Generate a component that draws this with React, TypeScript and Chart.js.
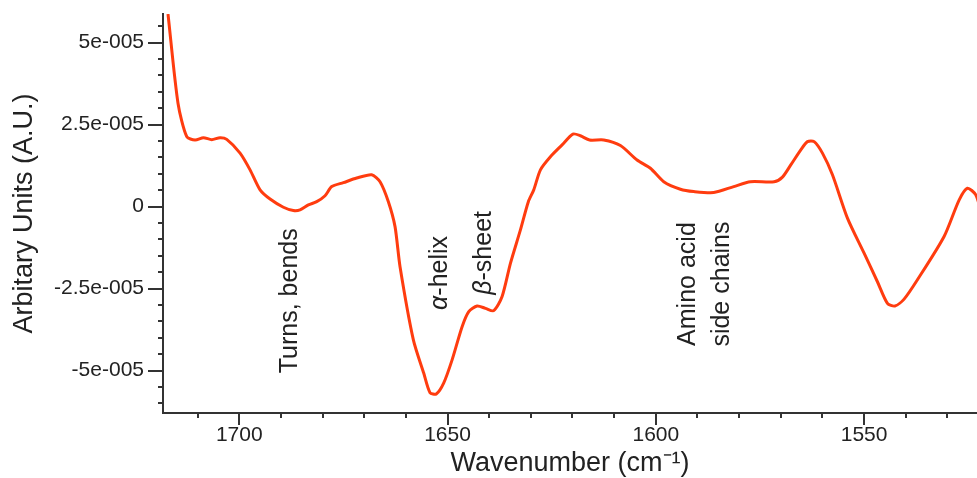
import React, { useEffect, useRef } from 'react';
import { Chart, registerables } from 'chart.js';

Chart.register(...registerables);

// ---- Data (wavenumber in cm^-1, signal in A.U.) ----
const wavenumbers = [
  1717.1, 1714.7, 1712.6, 1710.6, 1708.6, 1706.6, 1704.6, 1703.0, 1699.8, 1697.4,
  1695.0, 1692.6, 1689.4, 1687.0, 1685.4, 1683.4, 1681.4, 1679.4, 1677.8, 1675.0,
  1671.8, 1668.2, 1666.2, 1664.2, 1662.6, 1661.4, 1658.2, 1655.7, 1654.2, 1652.7,
  1650.9, 1648.9, 1646.5, 1644.9, 1642.9, 1640.9, 1638.9, 1636.9, 1634.9, 1632.5,
  1630.6, 1629.3, 1627.7, 1625.3, 1622.5, 1619.9, 1618.1, 1615.9, 1612.5, 1608.5,
  1604.5, 1601.3, 1598.1, 1594.1, 1590.9, 1586.1, 1581.3, 1577.3, 1571.6, 1569.6,
  1567.6, 1565.2, 1563.6, 1562.0, 1560.0, 1557.6, 1554.0, 1550.0, 1546.8, 1544.4,
  1542.6, 1540.4, 1537.2, 1530.8, 1527.2, 1525.2, 1523.2, 1521.8,
];
const signal = [
  5.87e-5, 3.15e-5, 2.13e-5, 2.03e-5, 2.10e-5, 2.04e-5, 2.10e-5, 2.05e-5, 1.63e-5, 1.12e-5,
  0.51e-5, 0.23e-5, -0.02e-5, -0.12e-5, -0.10e-5, 0.05e-5, 0.15e-5, 0.33e-5, 0.61e-5, 0.73e-5,
  0.87e-5, 0.97e-5, 0.76e-5, 0.15e-5, -0.61e-5, -1.83e-5, -4.06e-5, -5.08e-5, -5.67e-5, -5.71e-5,
  -5.37e-5, -4.67e-5, -3.66e-5, -3.20e-5, -3.03e-5, -3.10e-5, -3.17e-5, -2.74e-5, -1.73e-5, -0.71e-5,
  0.15e-5, 0.51e-5, 1.12e-5, 1.52e-5, 1.88e-5, 2.21e-5, 2.16e-5, 2.03e-5, 2.03e-5, 1.86e-5,
  1.42e-5, 1.17e-5, 0.76e-5, 0.53e-5, 0.46e-5, 0.43e-5, 0.61e-5, 0.76e-5, 0.76e-5, 0.90e-5,
  1.27e-5, 1.73e-5, 1.98e-5, 1.98e-5, 1.63e-5, 0.97e-5, -0.35e-5, -1.42e-5, -2.29e-5, -2.95e-5,
  -3.03e-5, -2.82e-5, -2.23e-5, -0.91e-5, 0.20e-5, 0.56e-5, 0.36e-5, -0.20e-5,
];

// ---- Axes ----
const xMin = 1522.9;
const xMax = 1718.3;
const yMin = -6.29e-5;
const yMax = 5.87e-5;
const xMajorTicks = [1700, 1650, 1600, 1550];
const xMinorTicks = [1710, 1690, 1680, 1670, 1660, 1640, 1630, 1620, 1610, 1590, 1580, 1570, 1560, 1540, 1530];
const yMajorTicks = [5e-5, 2.5e-5, 0, -2.5e-5, -5e-5];
const yTickLabels = ['5e-005', '2.5e-005', '0', '-2.5e-005', '-5e-005'];
const yMinorTicks = [5.5e-5, 4.5e-5, 4e-5, 3.5e-5, 3e-5, 2e-5, 1.5e-5, 1e-5, 0.5e-5, -0.5e-5, -1e-5, -1.5e-5, -2e-5, -3e-5, -3.5e-5, -4e-5, -4.5e-5, -5.5e-5, -6e-5];
const xTitle = 'Wavenumber (cm\u207B\u00B9)';
const yTitle = 'Arbitary Units (A.U.)';

// ---- Annotations (rotated labels) ----
const annotationItalic = ['', '\u03B1', '\u03B2', '', ''];
const annotationText = ['Turns, bends', '-helix', '-sheet', 'Amino acid', 'side chains'];
const annotationWavenumber = [1686.1, 1650.2, 1639.6, 1590.5, 1582.5];
const annotationValue = [-2.87e-5, -2.02e-5, -1.41e-5, -2.36e-5, -2.36e-5];

const LINE_COLOR = '#ff3c0f';
const AXIS_COLOR = '#333333';
const TEXT_COLOR = '#222222';
const FONT = '"Liberation Sans", Arial, Helvetica, sans-serif';

const tickPlugin = {
  id: 'customTicks',
  afterDraw(chart: any) {
    const { ctx, chartArea, scales } = chart;
    const xs = scales.x;
    const ys = scales.y;
    ctx.save();
    ctx.strokeStyle = AXIS_COLOR;
    ctx.lineWidth = 2;
    ctx.beginPath();
    const drawX = (v: number, len: number) => {
      const p = Math.round(xs.getPixelForValue(v));
      ctx.moveTo(p, chartArea.bottom);
      ctx.lineTo(p, chartArea.bottom + len);
    };
    const drawY = (v: number, len: number) => {
      const p = Math.round(ys.getPixelForValue(v));
      ctx.moveTo(chartArea.left, p);
      ctx.lineTo(chartArea.left - len, p);
    };
    xMajorTicks.forEach((v) => drawX(v, 12));
    xMinorTicks.forEach((v) => drawX(v, 5));
    yMajorTicks.forEach((v) => drawY(v, 15));
    yMinorTicks.forEach((v) => drawY(v, 5));
    ctx.stroke();

    // annotations
    ctx.fillStyle = TEXT_COLOR;
    ctx.textBaseline = 'alphabetic';
    ctx.textAlign = 'left';
    const size = 25;
    const italicFont = `italic ${size}px ${FONT}`;
    const normalFont = `${size}px ${FONT}`;
    for (let i = 0; i < annotationText.length; i++) {
      const px = xs.getPixelForValue(annotationWavenumber[i]);
      const py = ys.getPixelForValue(annotationValue[i]);
      ctx.font = italicFont;
      const w1 = annotationItalic[i] ? ctx.measureText(annotationItalic[i]).width : 0;
      ctx.font = normalFont;
      const w2 = ctx.measureText(annotationText[i]).width;
      const total = w1 + w2;
      ctx.save();
      ctx.translate(px, py);
      ctx.rotate(-Math.PI / 2);
      let cx = -total / 2;
      if (annotationItalic[i]) {
        ctx.font = italicFont;
        ctx.fillText(annotationItalic[i], cx, 0);
        cx += w1;
      }
      ctx.font = normalFont;
      ctx.fillText(annotationText[i], cx, 0);
      ctx.restore();
    }
    ctx.restore();
  },
};

export default function App() {
  const canvasRef = useRef<HTMLCanvasElement | null>(null);

  useEffect(() => {
    if (!canvasRef.current) return;
    const points = wavenumbers.map((x, i) => ({ x, y: signal[i] }));
    const chart = new Chart(canvasRef.current, {
      type: 'line',
      data: {
        datasets: [
          {
            data: points,
            borderColor: LINE_COLOR,
            borderWidth: 3,
            pointRadius: 0,
            tension: 0.25,
            fill: false,
          },
        ],
      },
      options: {
        animation: false,
        responsive: false,
        maintainAspectRatio: false,
        layout: { padding: { top: 14, left: 0, right: 0, bottom: 0 } },
        plugins: { legend: { display: false }, tooltip: { enabled: false } },
        scales: {
          x: {
            type: 'linear',
            reverse: true,
            min: xMin,
            max: xMax,
            afterBuildTicks: (s: any) => {
              s.ticks = xMajorTicks.map((v) => ({ value: v }));
            },
            afterFit: (s: any) => {
              s.height = 65;
              s.paddingLeft = 0;
              s.paddingRight = 0;
              s.paddingTop = 0;
              s.paddingBottom = 0;
            },
            grid: { display: false, drawTicks: false },
            border: { display: true, color: AXIS_COLOR, width: 2 },
            ticks: {
              padding: 10,
              color: TEXT_COLOR,
              font: { family: FONT, size: 21 },
              maxRotation: 0,
              callback: (v: any) => String(v),
            },
            title: {
              display: true,
              text: xTitle,
              color: TEXT_COLOR,
              font: { family: FONT, size: 27, lineHeight: 1 },
              padding: { top: 0, bottom: 1 },
            },
          },
          y: {
            type: 'linear',
            min: yMin,
            max: yMax,
            afterBuildTicks: (s: any) => {
              s.ticks = yMajorTicks.map((v) => ({ value: v }));
            },
            afterFit: (s: any) => {
              s.width = 163;
              s.paddingLeft = 0;
              s.paddingRight = 0;
              s.paddingTop = 0;
              s.paddingBottom = 0;
            },
            grid: { display: false, drawTicks: false },
            border: { display: true, color: AXIS_COLOR, width: 2 },
            ticks: {
              padding: 19,
              color: TEXT_COLOR,
              font: { family: FONT, size: 21 },
              callback: (v: any) => {
                const idx = yMajorTicks.findIndex((t) => Math.abs(t - v) < 1e-9);
                return idx >= 0 ? yTickLabels[idx] : '';
              },
            },
            title: {
              display: true,
              text: yTitle,
              color: TEXT_COLOR,
              font: { family: FONT, size: 27, lineHeight: 1 },
              padding: { top: 11, bottom: 0 },
            },
          },
        },
      },
      plugins: [tickPlugin],
    });
    return () => chart.destroy();
  }, []);

  return (
    <div style={{ position: 'absolute', left: 0, top: 0, width: 977, height: 478, background: '#fff' }}>
      <canvas ref={canvasRef} width={977} height={478} style={{ display: 'block' }} />
    </div>
  );
}
